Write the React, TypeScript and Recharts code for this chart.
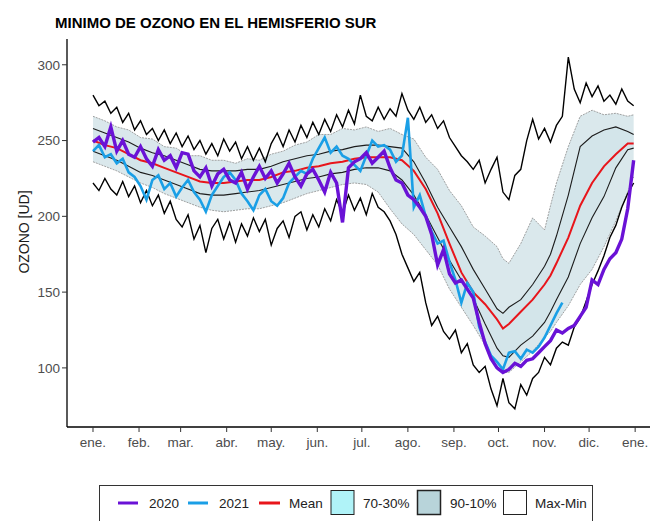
import React from "react";
import { ComposedChart, Area, Line, XAxis, YAxis } from "recharts";

const FONT = "'Liberation Sans', Arial, sans-serif";

// x axis: day of year, month ticks
const MONTH_TICKS = [0, 31, 59, 90, 120, 151, 181, 212, 243, 273, 304, 334, 365];
const MONTH_LABELS = ["ene.", "feb.", "mar.", "abr.", "may.", "jun.", "jul.", "ago.", "sep.", "oct.", "nov.", "dic.", "ene."];
const Y_TICKS = [100, 150, 200, 250, 300];

// daily-ish series, sampled every 4 days (day 0..364)
const DAYS4 = Array.from({ length: 92 }, (_, i) => i * 4);

const MAX = [
  280, 273, 276, 268, 272, 262, 268, 257, 263, 254,
  258, 250, 257, 248, 255, 246, 253, 244, 250, 241,
  248, 240, 251, 243, 249, 238, 246, 237, 245, 236,
  248, 255, 246, 257, 249, 260, 252, 262, 254, 264,
  256, 267, 259, 270, 261, 280, 266, 263, 272, 264,
  271, 266, 281, 270, 264, 272, 262, 267, 258, 263,
  252, 246, 240, 236, 231, 237, 222, 231, 239, 216,
  211, 227, 231, 250, 264, 251, 258, 249, 260, 266,
  305, 284, 275, 288, 279, 286, 276, 280, 274, 284,
  276, 273,
];

const MIN = [
  222, 217, 225, 218, 214, 223, 213, 220, 209, 217,
  207, 214, 202, 210, 198, 193, 201, 185, 194, 176,
  192, 198, 185, 196, 183, 195, 187, 199, 190, 198,
  181, 192, 197, 186, 200, 203, 191, 201, 193, 205,
  197, 211, 202, 214, 204, 212, 201, 215, 206, 203,
  197, 188, 175, 166, 157, 163, 143, 128, 134, 124,
  119, 125, 110, 116, 102, 97, 101, 86, 75, 93,
  77, 73, 89, 82, 93, 97, 107, 102, 113, 117,
  115, 127, 133, 144, 155, 164, 174, 186, 194, 206,
  215, 222,
];

const Y2020 = [
  249, 252, 246, 259, 243, 250, 241, 239, 246, 238,
  233, 244, 237, 240, 232, 242, 241, 230, 226, 232,
  220, 228, 231, 224, 222, 229, 218, 226, 233, 225,
  230, 222, 228, 235, 226, 220, 228, 231, 224, 216,
  229, 222, 196, 232, 236, 238, 242, 235, 239, 243,
  232, 224, 222, 214, 211, 206, 200, 188, 168, 178,
  162, 156, 158, 152, 146, 130, 116, 106, 100, 97,
  99, 103, 101, 105, 106, 110, 114, 118, 125, 123,
  126, 128, 134, 140, 158, 155, 165, 172, 176, 185,
  205, 237,
];

// 2021 stops mid November
const Y2021 = [
  243, 247, 239, 241, 235, 238, 229, 226, 220, 211,
  224, 227, 218, 222, 213, 219, 224, 216, 211, 203,
  214, 220, 226, 229, 224, 215, 210, 204, 214, 218,
  210, 207, 212, 222, 226, 230, 228, 238, 245, 252,
  242, 246, 240, 238, 234, 230, 240, 250, 246, 247,
  244, 236, 240, 265, 206, 214, 200, 190, 182, 184,
  170, 158, 143, 156, 150, 127, 117, 108, 104, 99,
  110, 111, 106, 112, 110, 114, 120, 128, 136, 143,
];

// climatology (smoother), own day grid
const SMOOTH_DAYS = [
  0, 8, 16, 24, 32, 40, 48, 56, 64, 72,
  80, 88, 96, 104, 112, 120, 128, 136, 144, 152,
  160, 168, 176, 184, 192, 200, 208, 216, 224, 232,
  240, 248, 256, 264, 272, 276, 280, 288, 296, 304,
  308, 312, 320, 328, 336, 344, 352, 360, 364,
];

const MEAN = [
  250, 247, 245, 241, 237, 235, 232, 229, 226, 223,
  222, 222, 223, 224, 224, 226, 229, 230, 232, 233,
  235, 236, 238, 239, 239, 239, 237, 230, 218, 202,
  182, 163, 150, 142, 132, 126, 129, 137, 145, 155,
  161, 169, 186, 207, 222, 233, 241, 248, 248,
];

const P90 = [
  266, 263, 259, 257, 252, 251, 246, 245, 240, 240,
  237, 237, 235, 238, 237, 241, 243, 247, 249, 254,
  254, 258, 257, 259, 256, 258, 254, 251, 239, 231,
  217, 207, 193, 187, 180, 172, 169, 182, 199, 191,
  207, 222, 246, 266, 270, 267, 268, 266, 267,
];

const P70 = [
  258, 255, 252, 249, 245, 242, 240, 237, 234, 231,
  230, 230, 230, 231, 231, 233, 236, 238, 240, 241,
  243, 244, 246, 247, 247, 246, 245, 236, 222, 206,
  193, 180, 165, 152, 139, 136, 140, 145, 155, 167,
  175, 187, 214, 246, 253, 257, 259, 256, 254,
];

const P30 = [
  243, 240, 237, 233, 229, 227, 224, 221, 218, 215,
  214, 214, 215, 216, 217, 219, 221, 223, 225, 226,
  228, 229, 231, 232, 232, 230, 224, 214, 201, 186,
  171, 158, 146, 129, 113, 108, 107, 115, 121, 130,
  137, 145, 160, 182, 199, 213, 232, 244, 245,
];

const P10 = [
  236, 233, 230, 226, 222, 219, 215, 212, 209, 206,
  204, 203, 204, 205, 205, 207, 209, 212, 215, 217,
  219, 221, 222, 221, 216, 205, 195, 188, 178, 168,
  152, 140, 128, 115, 99, 97, 97, 104, 111, 120,
  124, 130, 141, 155, 165, 180, 197, 216, 226,
];

const noisyData = DAYS4.map((day, i) => ({
  day,
  max: MAX[i],
  min: MIN[i],
  y2020: Y2020[i],
  y2021: Y2021[i],
}));

const smoothData = SMOOTH_DAYS.map((day, i) => ({
  day,
  mean: MEAN[i],
  p90: P90[i],
  p70: P70[i],
  p30: P30[i],
  p10: P10[i],
}));

const C2020 = "#6a12d6";
const C2021 = "#1a9fe6";
const CMEAN = "#e8151b";

export default function App() {
  const tickStyle = { fill: "#4d4d4d", fontSize: 13.5, fontFamily: FONT };

  return (
    <div style={{ position: "absolute", left: 0, top: 0, width: 650, height: 521, background: "#fff", overflow: "hidden" }}>
      <ComposedChart width={650} height={521} margin={{ top: 39, right: 0, bottom: 0, left: 0 }}>
        <XAxis
          type="number"
          dataKey="day"
          domain={[-17.5, 375]}
          allowDataOverflow
          ticks={MONTH_TICKS}
          tickFormatter={(v: number) => MONTH_LABELS[MONTH_TICKS.indexOf(v)]}
          height={94}
          tick={tickStyle}
          tickSize={5}
          tickMargin={5}
          axisLine={{ stroke: "#000", strokeWidth: 1.3 }}
          tickLine={{ stroke: "#333" }}
        />
        <YAxis
          type="number"
          domain={[61, 317]}
          allowDataOverflow
          ticks={Y_TICKS}
          width={67}
          tick={tickStyle}
          tickSize={5}
          tickMargin={2}
          axisLine={{ stroke: "#000", strokeWidth: 1.3 }}
          tickLine={{ stroke: "#333" }}
        />

        {/* 90-10 and 70-30 bands */}
        <Area
          data={smoothData}
          dataKey={(d: any) => [d.p10, d.p90]}
          type="linear"
          fill="#dae8ec"
          fillOpacity={1}
          stroke="none"
          isAnimationActive={false}
        />
        <Area
          data={smoothData}
          dataKey={(d: any) => [d.p30, d.p70]}
          type="linear"
          fill="#d3e5ea"
          fillOpacity={1}
          stroke="none"
          isAnimationActive={false}
        />

        <Line data={smoothData} dataKey="p90" type="linear" stroke="#8c8c8c" strokeWidth={0.8} strokeDasharray="2 1" dot={false} isAnimationActive={false} />
        <Line data={smoothData} dataKey="p10" type="linear" stroke="#8c8c8c" strokeWidth={0.8} strokeDasharray="2 1" dot={false} isAnimationActive={false} />
        <Line data={smoothData} dataKey="p70" type="linear" stroke="#1c1c1c" strokeWidth={1.1} dot={false} isAnimationActive={false} />
        <Line data={smoothData} dataKey="p30" type="linear" stroke="#1c1c1c" strokeWidth={1.1} dot={false} isAnimationActive={false} />

        <Line data={noisyData} dataKey="max" type="linear" stroke="#000" strokeWidth={1.4} dot={false} isAnimationActive={false} />
        <Line data={noisyData} dataKey="min" type="linear" stroke="#000" strokeWidth={1.4} dot={false} isAnimationActive={false} />

        <Line data={smoothData} dataKey="mean" type="linear" stroke={CMEAN} strokeWidth={2} dot={false} isAnimationActive={false} />
        <Line data={noisyData} dataKey="y2021" type="linear" stroke={C2021} strokeWidth={2.6} dot={false} isAnimationActive={false} />
        <Line data={noisyData} dataKey="y2020" type="linear" stroke={C2020} strokeWidth={3.4} dot={false} isAnimationActive={false} />
      </ComposedChart>

      <svg width={650} height={521} style={{ position: "absolute", left: 0, top: 0, pointerEvents: "none" }} fontFamily={FONT}>
        <text x={55} y={28} fontSize={15} fontWeight="bold" fill="#000">
          MINIMO DE OZONO EN EL HEMISFERIO SUR
        </text>
        <text x={29} y={232} fontSize={14} fill="#1a1a1a" textAnchor="middle" transform="rotate(-90, 29, 232)">
          OZONO [UD]
        </text>

        {/* legend */}
        <rect x={99.5} y={485.5} width={493} height={40} fill="#fff" stroke="#333" strokeWidth={1} />
        <line x1={118} x2={138} y1={503} y2={503} stroke={C2020} strokeWidth={3} />
        <text x={149} y={508} fontSize={13.5} fill="#222">2020</text>
        <line x1={188} x2={208} y1={503} y2={503} stroke={C2021} strokeWidth={3} />
        <text x={219} y={508} fontSize={13.5} fill="#222">2021</text>
        <line x1={259} x2={280} y1={503} y2={503} stroke={CMEAN} strokeWidth={3} />
        <text x={289} y={508} fontSize={13.5} fill="#222">Mean</text>
        <rect x={331} y={490.5} width={23} height={24} fill="#b0f3f8" stroke="#222" strokeWidth={1} />
        <text x={363} y={508} fontSize={13.5} fill="#222">70-30%</text>
        <rect x={417.5} y={490.5} width={23} height={24} fill="#b8d4da" stroke="#222" strokeWidth={1.5} />
        <text x={450} y={508} fontSize={13.5} fill="#222">90-10%</text>
        <rect x={503.5} y={490.5} width={23} height={24} fill="#fff" stroke="#222" strokeWidth={1} />
        <text x={535} y={508} fontSize={13.5} fill="#222">Max-Min</text>
      </svg>
    </div>
  );
}
